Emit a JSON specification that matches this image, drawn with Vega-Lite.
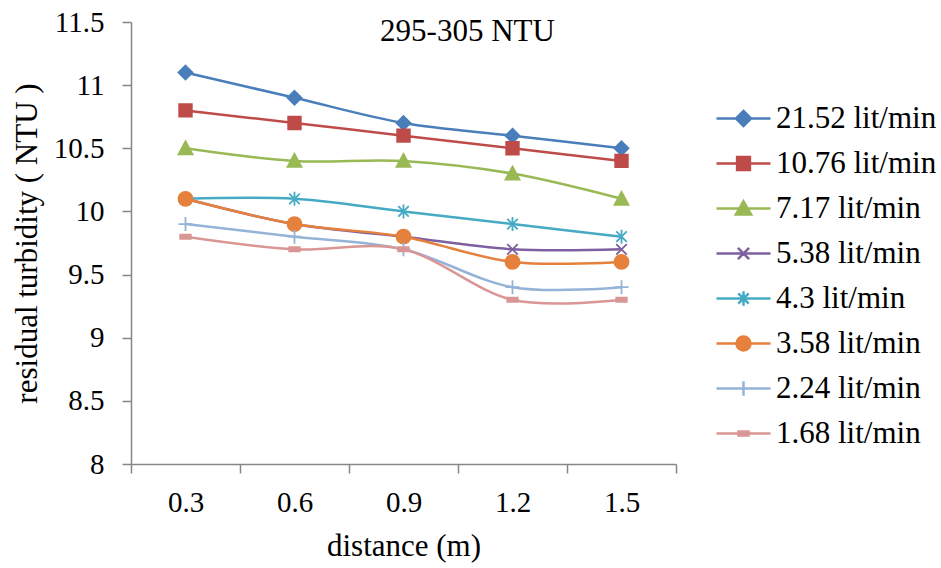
{
  "$schema": "https://vega.github.io/schema/vega-lite/v6.json",
  "autosize": "none",
  "width": 545,
  "height": 442,
  "padding": {"left": 131, "top": 22, "right": 265, "bottom": 104},
  "background": "white",
  "config": {
    "view": {"stroke": null},
    "font": "Liberation Serif"
  },
  "title": {
    "text": "295-305 NTU",
    "anchor": "middle",
    "frame": "group",
    "dx": 64,
    "offset": -64,
    "baseline": "alphabetic",
    "fontSize": 31,
    "font": "Liberation Serif",
    "fontWeight": "normal",
    "color": "black"
  },
  "data": {
    "values": [
      {"series": "21.52 lit/min", "distance": 0.3, "turbidity": 11.1},
      {"series": "21.52 lit/min", "distance": 0.6, "turbidity": 10.9},
      {"series": "21.52 lit/min", "distance": 0.9, "turbidity": 10.7},
      {"series": "21.52 lit/min", "distance": 1.2, "turbidity": 10.6},
      {"series": "21.52 lit/min", "distance": 1.5, "turbidity": 10.5},
      {"series": "10.76 lit/min", "distance": 0.3, "turbidity": 10.8},
      {"series": "10.76 lit/min", "distance": 0.6, "turbidity": 10.7},
      {"series": "10.76 lit/min", "distance": 0.9, "turbidity": 10.6},
      {"series": "10.76 lit/min", "distance": 1.2, "turbidity": 10.5},
      {"series": "10.76 lit/min", "distance": 1.5, "turbidity": 10.4},
      {"series": "7.17 lit/min", "distance": 0.3, "turbidity": 10.5},
      {"series": "7.17 lit/min", "distance": 0.6, "turbidity": 10.4},
      {"series": "7.17 lit/min", "distance": 0.9, "turbidity": 10.4},
      {"series": "7.17 lit/min", "distance": 1.2, "turbidity": 10.3},
      {"series": "7.17 lit/min", "distance": 1.5, "turbidity": 10.1},
      {"series": "5.38 lit/min", "distance": 0.3, "turbidity": 10.1},
      {"series": "5.38 lit/min", "distance": 0.6, "turbidity": 9.9},
      {"series": "5.38 lit/min", "distance": 0.9, "turbidity": 9.8},
      {"series": "5.38 lit/min", "distance": 1.2, "turbidity": 9.7},
      {"series": "5.38 lit/min", "distance": 1.5, "turbidity": 9.7},
      {"series": "4.3 lit/min", "distance": 0.3, "turbidity": 10.1},
      {"series": "4.3 lit/min", "distance": 0.6, "turbidity": 10.1},
      {"series": "4.3 lit/min", "distance": 0.9, "turbidity": 10.0},
      {"series": "4.3 lit/min", "distance": 1.2, "turbidity": 9.9},
      {"series": "4.3 lit/min", "distance": 1.5, "turbidity": 9.8},
      {"series": "3.58 lit/min", "distance": 0.3, "turbidity": 10.1},
      {"series": "3.58 lit/min", "distance": 0.6, "turbidity": 9.9},
      {"series": "3.58 lit/min", "distance": 0.9, "turbidity": 9.8},
      {"series": "3.58 lit/min", "distance": 1.2, "turbidity": 9.6},
      {"series": "3.58 lit/min", "distance": 1.5, "turbidity": 9.6},
      {"series": "2.24 lit/min", "distance": 0.3, "turbidity": 9.9},
      {"series": "2.24 lit/min", "distance": 0.6, "turbidity": 9.8},
      {"series": "2.24 lit/min", "distance": 0.9, "turbidity": 9.7},
      {"series": "2.24 lit/min", "distance": 1.2, "turbidity": 9.4},
      {"series": "2.24 lit/min", "distance": 1.5, "turbidity": 9.4},
      {"series": "1.68 lit/min", "distance": 0.3, "turbidity": 9.8},
      {"series": "1.68 lit/min", "distance": 0.6, "turbidity": 9.7},
      {"series": "1.68 lit/min", "distance": 0.9, "turbidity": 9.7},
      {"series": "1.68 lit/min", "distance": 1.2, "turbidity": 9.3},
      {"series": "1.68 lit/min", "distance": 1.5, "turbidity": 9.3}
    ]
  },
  "encoding": {
    "x": {
      "field": "distance",
      "type": "quantitative",
      "scale": {"domain": [0.15, 1.65], "nice": false, "zero": false},
      "axis": {
        "title": "distance (m)",
        "values": [0.15, 0.3, 0.45, 0.6, 0.75, 0.9, 1.05, 1.2, 1.35, 1.5, 1.65],
        "labelExpr": "round(datum.value*100) % 30 == 0 ? format(datum.value, '.1f') : ''",
        "tickOpacity": {"condition": {"test": "round(datum.value*100) % 30 == 0", "value": 0}, "value": 1},
        "grid": false,
        "domainColor": "#868686",
        "domainWidth": 1.5,
        "tickColor": "#868686",
        "tickWidth": 1.5,
        "tickSize": 9,
        "labelFont": "Liberation Serif",
        "labelFontSize": 29,
        "labelColor": "black",
        "labelPadding": 15,
        "labelOverlap": false,
        "labelFlush": false,
        "titleFont": "Liberation Serif",
        "titleFontSize": 31,
        "titleFontWeight": "normal",
        "titleColor": "black",
        "titlePadding": 14
      }
    },
    "y": {
      "field": "turbidity",
      "type": "quantitative",
      "scale": {"domain": [8, 11.5], "nice": false, "zero": false},
      "axis": {
        "title": "residual turbidity ( NTU )",
        "values": [8, 8.5, 9, 9.5, 10, 10.5, 11, 11.5],
        "format": "~g",
        "grid": false,
        "domainColor": "#868686",
        "domainWidth": 1.5,
        "tickColor": "#868686",
        "tickWidth": 1.5,
        "tickSize": 9,
        "labelFont": "Liberation Serif",
        "labelFontSize": 29,
        "labelColor": "black",
        "labelPadding": 18,
        "labelFlush": false,
        "labelOverlap": false,
        "titleFont": "Liberation Serif",
        "titleFontSize": 31,
        "titleFontWeight": "normal",
        "titleColor": "black",
        "titlePadding": 10
      }
    }
  },
  "layer": [
    {
      "mark": {"type": "line", "interpolate": "cardinal", "strokeWidth": 2.5},
      "encoding": {
        "color": {
          "field": "series",
          "type": "nominal",
          "sort": null,
          "scale": {
            "domain": ["21.52 lit/min", "10.76 lit/min", "7.17 lit/min", "5.38 lit/min", "4.3 lit/min", "3.58 lit/min", "2.24 lit/min", "1.68 lit/min"],
            "range": ["#4A7EBB", "#BE4B48", "#98B954", "#7D60A0", "#46AAC5", "#E5813C", "#95B3D7", "#D99694"]
          },
          "legend": {
            "orient": "none",
            "legendX": 591,
            "legendY": 75,
            "title": null,
            "padding": 0,
            "symbolSize": 1600,
            "symbolStrokeWidth": 2.5,
            "labelFont": "Liberation Serif",
            "labelFontSize": 31,
            "labelColor": "black",
            "labelOffset": 11,
            "rowPadding": 8,
            "labelLimit": 300,
            "encode": {
              "symbols": {
                "update": {
                  "shape": {"signal": "datum.value == '21.52 lit/min' ? 'M-1.35,0H1.35M0,-0.375L0.375,0L0,0.375L-0.375,0Z' : datum.value == '10.76 lit/min' ? 'M-1.35,0H1.35M-0.32,-0.32H0.32V0.32H-0.32Z' : datum.value == '7.17 lit/min' ? 'M-1.35,0H1.35M0,-0.36L0.38,0.3H-0.38Z' : datum.value == '5.38 lit/min' ? 'M-1.35,0H1.35M-0.28,-0.28L0.28,0.28M-0.28,0.28L0.28,-0.28' : datum.value == '4.3 lit/min' ? 'M-1.35,0H1.35M-0.26,-0.26L0.26,0.26M-0.26,0.26L0.26,-0.26M0,-0.36V0.36' : datum.value == '3.58 lit/min' ? 'M-1.35,0H1.35M0.35,0A0.35,0.35,0,1,1,-0.35,0A0.35,0.35,0,1,1,0.35,0Z' : datum.value == '2.24 lit/min' ? 'M-1.35,0H1.35M0,-0.36V0.36' : 'M-1.35,0H1.35M-0.25,-0.1H0.25V0.1H-0.25Z'"},
                  "fill": {"scale": "color", "field": "value"},
                  "stroke": {"scale": "color", "field": "value"},
                  "strokeWidth": {"value": 2.5},
                  "opacity": {"value": 1}
                }
              }
            }
          }
        }
      }
    },
    {
      "mark": {"type": "point", "size": 196, "strokeWidth": 1.8, "opacity": 1},
      "encoding": {
        "shape": {
          "field": "series",
          "type": "nominal",
          "scale": {
            "range": [
              "M-0.75,-0.3H0.75V0.3H-0.75Z",
              "M-0.9,-0.9H0.9V0.9H-0.9Z",
              "M-1,0H1M0,-1V1",
              "M0,-1L1,0L0,1L-1,0Z",
              "M1,0A1,1,0,1,1,-1,0A1,1,0,1,1,1,0Z",
              "M-0.75,-0.75L0.75,0.75M-0.75,0.75L0.75,-0.75M0,-1V1",
              "M-0.75,-0.75L0.75,0.75M-0.75,0.75L0.75,-0.75",
              "M0,-1L1,0.85H-1Z"
            ]
          },
          "legend": null
        },
        "fill": {
          "field": "series",
          "type": "nominal",
          "scale": {
            "range": ["#D99694", "#BE4B48", "#95B3D7", "#4A7EBB", "#E5813C", "#46AAC5", "#7D60A0", "#98B954"]
          },
          "legend": null
        },
        "stroke": {
          "field": "series",
          "type": "nominal",
          "scale": {
            "range": ["#D99694", "#BE4B48", "#95B3D7", "#4A7EBB", "#E5813C", "#46AAC5", "#7D60A0", "#98B954"]
          },
          "legend": null
        }
      }
    }
  ]
}
